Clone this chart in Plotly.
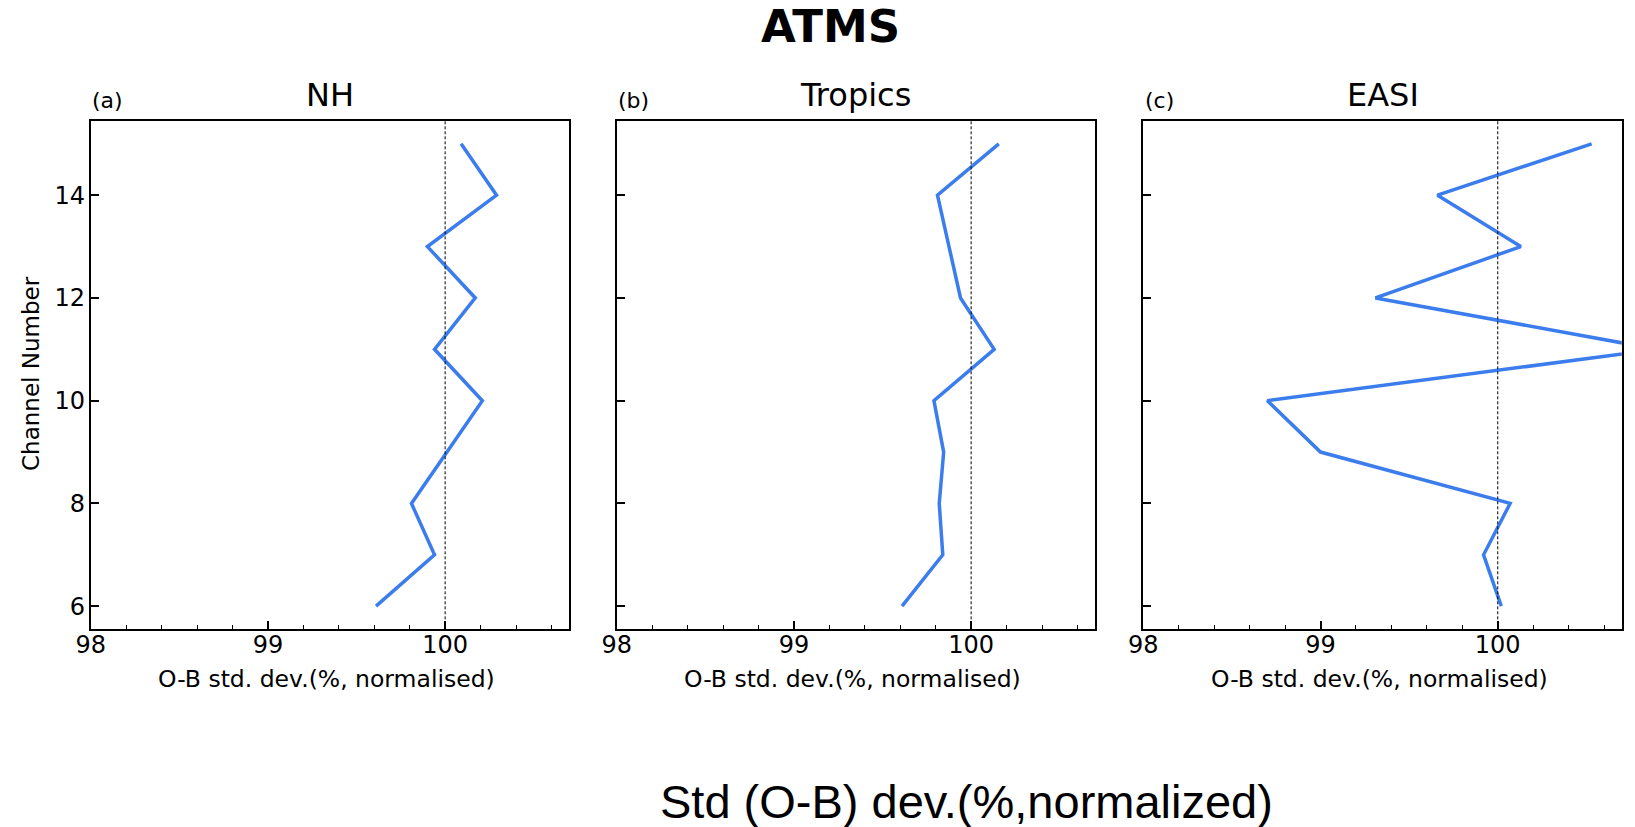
import plotly.graph_objects as go

channels = [6, 7, 8, 9, 10, 11, 12, 13, 14, 15]
nh = [99.61, 99.94, 99.81, 100.01, 100.21, 99.94, 100.17, 99.90, 100.29, 100.09]
tropics = [99.61, 99.84, 99.82, 99.845, 99.79, 100.13, 99.94, 99.875, 99.81, 100.156]
easi = [100.02, 99.92, 100.07, 99.00, 98.70, 100.90, 99.31, 100.13, 99.66, 100.53]

panel_titles = ["NH", "Tropics", "EASI"]
panel_tags = ["(a)", "(b)", "(c)"]
series = [nh, tropics, easi]
x_ticks = [98, 99, 100]
y_ticks = [6, 8, 10, 12, 14]

W, H = 1635, 827
FONT = "DejaVu Sans"
LINE_COLOR = "#3b7ded"

# panel pixel boxes
lefts = [90.7, 616.7, 1143.3]
pw = 478.5
top_px, bot_px = 120.7, 629.3

fig = go.Figure()
for i, (vals, title, tag) in enumerate(zip(series, panel_titles, panel_tags)):
    xa = "x" if i == 0 else f"x{i+1}"
    ya = "y" if i == 0 else f"y{i+1}"
    fig.add_trace(go.Scatter(x=vals, y=channels, mode="lines",
                             line=dict(color=LINE_COLOR, width=3.5),
                             xaxis=xa, yaxis=ya, showlegend=False))
    l = lefts[i]
    dom_x = [l / W, (l + pw) / W]
    dom_y = [1 - bot_px / H, 1 - top_px / H]
    axkey = "xaxis" if i == 0 else f"xaxis{i+1}"
    aykey = "yaxis" if i == 0 else f"yaxis{i+1}"
    fig.update_layout(**{
        axkey: dict(domain=dom_x, anchor=ya, range=[98, 100.7], automargin=False,
                    tickmode="array", tickvals=x_ticks,
                    ticktext=[str(v) for v in x_ticks],
                    ticks="inside", ticklen=8, tickwidth=1.5, tickcolor="black",
                    minor=dict(tickmode="linear", tick0=98, dtick=0.2, ticks="inside",
                               ticklen=4, tickwidth=1.2, tickcolor="black"),
                    showline=True, linecolor="black", linewidth=1.8, mirror=True,
                    showgrid=False, zeroline=False,
                    tickfont=dict(family=FONT, size=24, color="black"),
                    ticklabelstandoff=-7),
        aykey: dict(domain=dom_y, anchor=xa, range=[5.55, 15.45], automargin=False,
                    tickmode="array", tickvals=y_ticks,
                    ticktext=[str(v) for v in y_ticks] if i == 0 else [""] * len(y_ticks),
                    ticks="inside", ticklen=8, tickwidth=1.5, tickcolor="black",
                    showline=True, linecolor="black", linewidth=1.8, mirror=True,
                    showgrid=False, zeroline=False,
                    tickfont=dict(family=FONT, size=24, color="black"),
                    ticklabelstandoff=-1),
    })
    fig.add_shape(type="line", xref=xa, yref=f"{ya} domain", x0=100, x1=100, y0=0, y1=1,
                  line=dict(color="black", width=1, dash="3px,2px"))
    cx = (l + pw / 2) / W
    fig.add_annotation(text=title, x=cx, y=1 - 95 / H, xref="paper", yref="paper",
                       showarrow=False, xanchor="center", yanchor="middle",
                       font=dict(family=FONT, size=32, color="black"))
    fig.add_annotation(text=tag, x=(l - 0.5) / W, y=1 - 100 / H, xref="paper", yref="paper",
                       showarrow=False, xanchor="left", yanchor="middle",
                       font=dict(family=FONT, size=22, color="black"))
    fig.add_annotation(text="O-B std. dev.(%, normalised)", x=cx - 3 / W, y=1 - 679 / H,
                       xref="paper", yref="paper", showarrow=False,
                       xanchor="center", yanchor="middle",
                       font=dict(family=FONT, size=23.5, color="black"))

fig.add_annotation(text="Channel Number", x=31 / W, y=1 - 374 / H, xref="paper", yref="paper",
                   showarrow=False, textangle=-90, xanchor="center", yanchor="middle",
                   font=dict(family=FONT, size=23, color="black"))
fig.add_annotation(text="<b>ATMS</b>", x=830 / W, y=1 - 27 / H, xref="paper", yref="paper",
                   showarrow=False, xanchor="center", yanchor="middle",
                   font=dict(family=FONT, size=45, color="black"))
fig.add_annotation(text="Std (O-B) dev.(%,normalized)", x=966 / W, y=1 - 801 / H,
                   xref="paper", yref="paper", showarrow=False,
                   xanchor="center", yanchor="middle",
                   font=dict(family="Liberation Sans", size=47, color="black"))

fig.update_layout(width=W, height=H, margin=dict(l=0, r=0, t=0, b=0),
                  paper_bgcolor="white", plot_bgcolor="white")
fig.write_html("out.html")
